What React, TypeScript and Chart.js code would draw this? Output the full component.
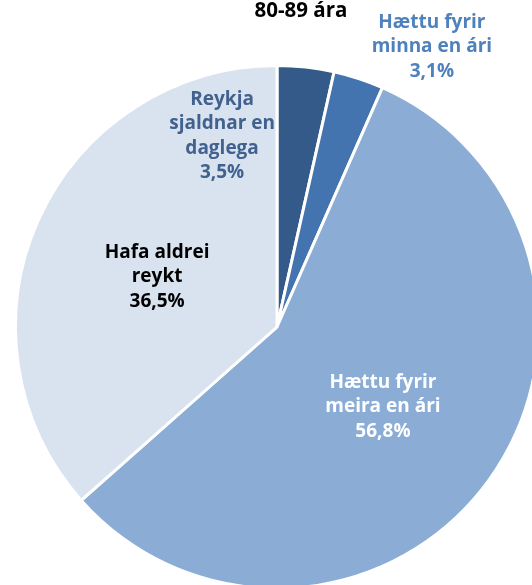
import React, { useEffect, useRef } from "react";
import { Chart, registerables } from "chart.js";

Chart.register(...registerables);

const title = "80-89 ára";
const categories = [
  ["Reykja", "sjaldnar en", "daglega"],
  ["Hættu fyrir", "minna en ári"],
  ["Hættu fyrir", "meira en ári"],
  ["Hafa aldrei", "reykt"],
];
const values = [3.5, 3.1, 56.8, 36.5];
const valueLabels = ["3,5%", "3,1%", "56,8%", "36,5%"];
const sliceColors = ["#335A88", "#4374B0", "#8BADD5", "#D9E3F0"];
const labelColors = ["#41618E", "#4F81BD", "#FFFFFF", "#000000"];
// label block centre, as fraction of radius from the pie centre
const labelOffsets = [
  [-0.212, -0.737],
  [0.598, -1.081],
  [0.409, 0.309],
  [-0.463, -0.193],
];

const FONT = "bold 19px 'Open Sans', sans-serif";
const LINE_H = 24.5;

export default function App() {
  const ref = useRef<HTMLCanvasElement | null>(null);
  useEffect(() => {
    if (!ref.current) return;
    const labelPlugin = {
      id: "labels",
      afterDraw(chart: any) {
        const ctx = chart.ctx;
        const meta = chart.getDatasetMeta(0);
        const arc = meta.data[0];
        const cx = arc.x;
        const cy = arc.y;
        const r = 259;
        ctx.save();
        ctx.textAlign = "center";
        ctx.textBaseline = "middle";
        ctx.font = FONT;
        categories.forEach((lines, i) => {
          const all = [...lines, valueLabels[i]];
          const x = cx + labelOffsets[i][0] * r;
          const y0 = cy + labelOffsets[i][1] * r - ((all.length - 1) * LINE_H) / 2;
          ctx.fillStyle = labelColors[i];
          all.forEach((t, k) => ctx.fillText(t, x, y0 + k * LINE_H));
        });
        ctx.fillStyle = "#000000";
        ctx.font = "bold 20.5px 'Open Sans', sans-serif";
        ctx.textBaseline = "alphabetic";
        ctx.fillText(title, cx + 24, 17);
        ctx.restore();
      },
    };
    const chart = new Chart(ref.current, {
      type: "pie",
      data: {
        labels: categories.map((c) => c.join(" ")),
        datasets: [
          {
            data: values,
            backgroundColor: sliceColors,
            borderColor: "#FFFFFF",
            borderWidth: 3,
          },
        ],
      },
      options: {
        responsive: false,
        animation: false,
        radius: 261.5,
        layout: { padding: { top: 34 } },
        plugins: {
          legend: { display: false },
          tooltip: { enabled: false },
          title: { display: false },
        },
      },
      plugins: [labelPlugin],
    });
    return () => chart.destroy();
  }, []);
  return (
    <div
      style={{
        position: "fixed",
        left: 0,
        top: 0,
        width: 532,
        height: 585,
        overflow: "hidden",
        background: "#FFFFFF",
      }}
    >
      <canvas ref={ref} width={554} height={620} style={{ display: "block", width: 554, height: 620 }} />
    </div>
  );
}
